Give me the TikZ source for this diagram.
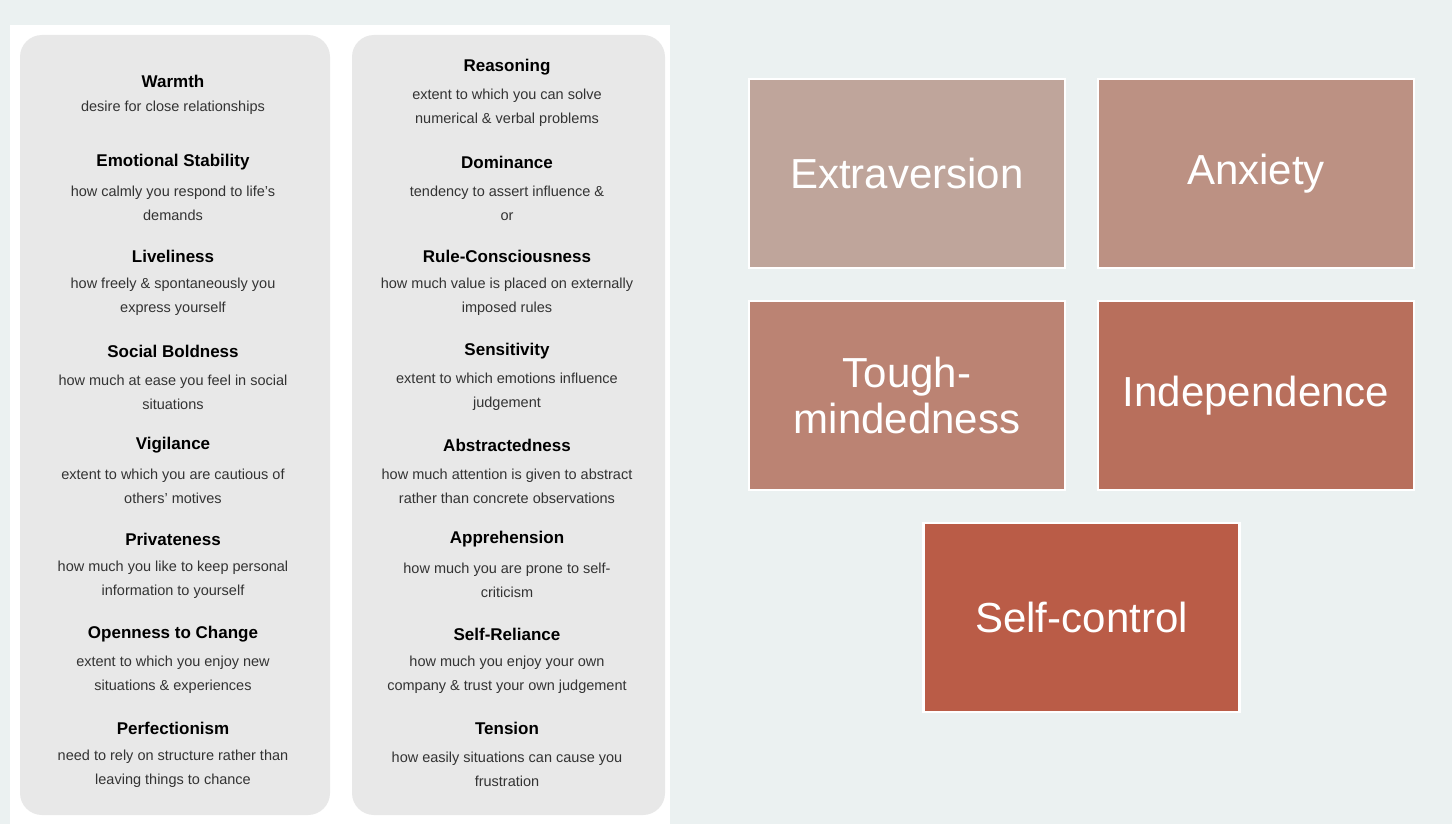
\documentclass[tikz,border=0pt]{standalone}
\usepackage{fontspec}
\setmainfont{Liberation Sans}
\begin{document}
\begin{tikzpicture}[x=1pt,y=-1pt,
 hd/.style={font=\fontsize{17}{20}\selectfont\bfseries,text=black,anchor=center},
 ds/.style={font=\fontsize{14.5}{24}\selectfont,text=black!80,anchor=center,align=center},
 bx/.style={draw=white,line width=2.5pt,minimum width=316pt,minimum height=189pt,text=white,font=\fontsize{42}{46}\selectfont,align=center,inner sep=0pt}]
\definecolor{bg}{HTML}{EBF1F1}
\useasboundingbox (0,0) rectangle (1452,824);
\fill[bg] (0,0) rectangle (1452,824);
\fill[white] (10,25) rectangle (670,824);
\fill[black!9,rounded corners=22pt] (20,35) rectangle (330,815);
\fill[black!9,rounded corners=22pt] (352,35) rectangle (665,815);
% left column
\def\L{173}\def\R{507}
\node[hd] (w) at (\L,81) {Warmth};
\node[ds] (wd) at (\L,108) {desire for close relationships};
\foreach \n/\y/\h/\a/\b in {
 es/162/Emotional Stability/how calmly you respond to life's/demands,
 li/256/Liveliness/how freely \& spontaneously you/express yourself,
 sb/351/Social Boldness/how much at ease you feel in social/situations,
 vi/445/Vigilance/extent to which you are cautious of/others' motives,
 pr/539/Privateness/how much you like to keep personal/information to yourself,
 op/634/Openness to Change/extent to which you enjoy new/situations \& experiences,
 pe/728/Perfectionism/need to rely on structure rather than/leaving things to chance}{
 \node[hd] (\n) at (\L,\y) {\h};
 \node[ds] (\n d) at (\L,\y+41) {\a\\\b};
}
\foreach \n/\y/\h/\a/\b in {
 re/67/Reasoning/extent to which you can solve/numerical \& verbal problems,
 do/162/Dominance/tendency to assert influence \&/or/control others,
 ru/256/Rule-Consciousness/how much value is placed on externally/imposed rules,
 se/351/Sensitivity/extent to which emotions influence/judgement,
 ab/445/Abstractedness/how much attention is given to abstract/rather than concrete observations,
 ap/539/Apprehension/how much you are prone to self-/criticism,
 sr/634/Self-Reliance/how much you enjoy your own/company \& trust your own judgement,
 te/728/Tension/how easily situations can cause you/frustration}{
 \node[hd] (\n) at (\R,\y) {\h};
 \node[ds] (\n d) at (\R,\y+41) {\a\\\b};
}
\node[bx,fill={rgb,255:red,191;green,165;blue,155}] (ex) at (907,173.5) {Extraversion};
\node[bx,fill={rgb,255:red,188;green,145;blue,131}] (an) at (1256,173.5) {Anxiety};
\node[bx,fill={rgb,255:red,187;green,131;blue,115}] (tm) at (907,395.5) {Tough-\\mindedness};
\node[bx,fill={rgb,255:red,184;green,111;blue,92}] (in) at (1256,395.5) {Independence};
\node[bx,fill={rgb,255:red,186;green,92;blue,71}] (sc) at (1081.5,617.5) {Self-control};
\end{tikzpicture}
\end{document}
